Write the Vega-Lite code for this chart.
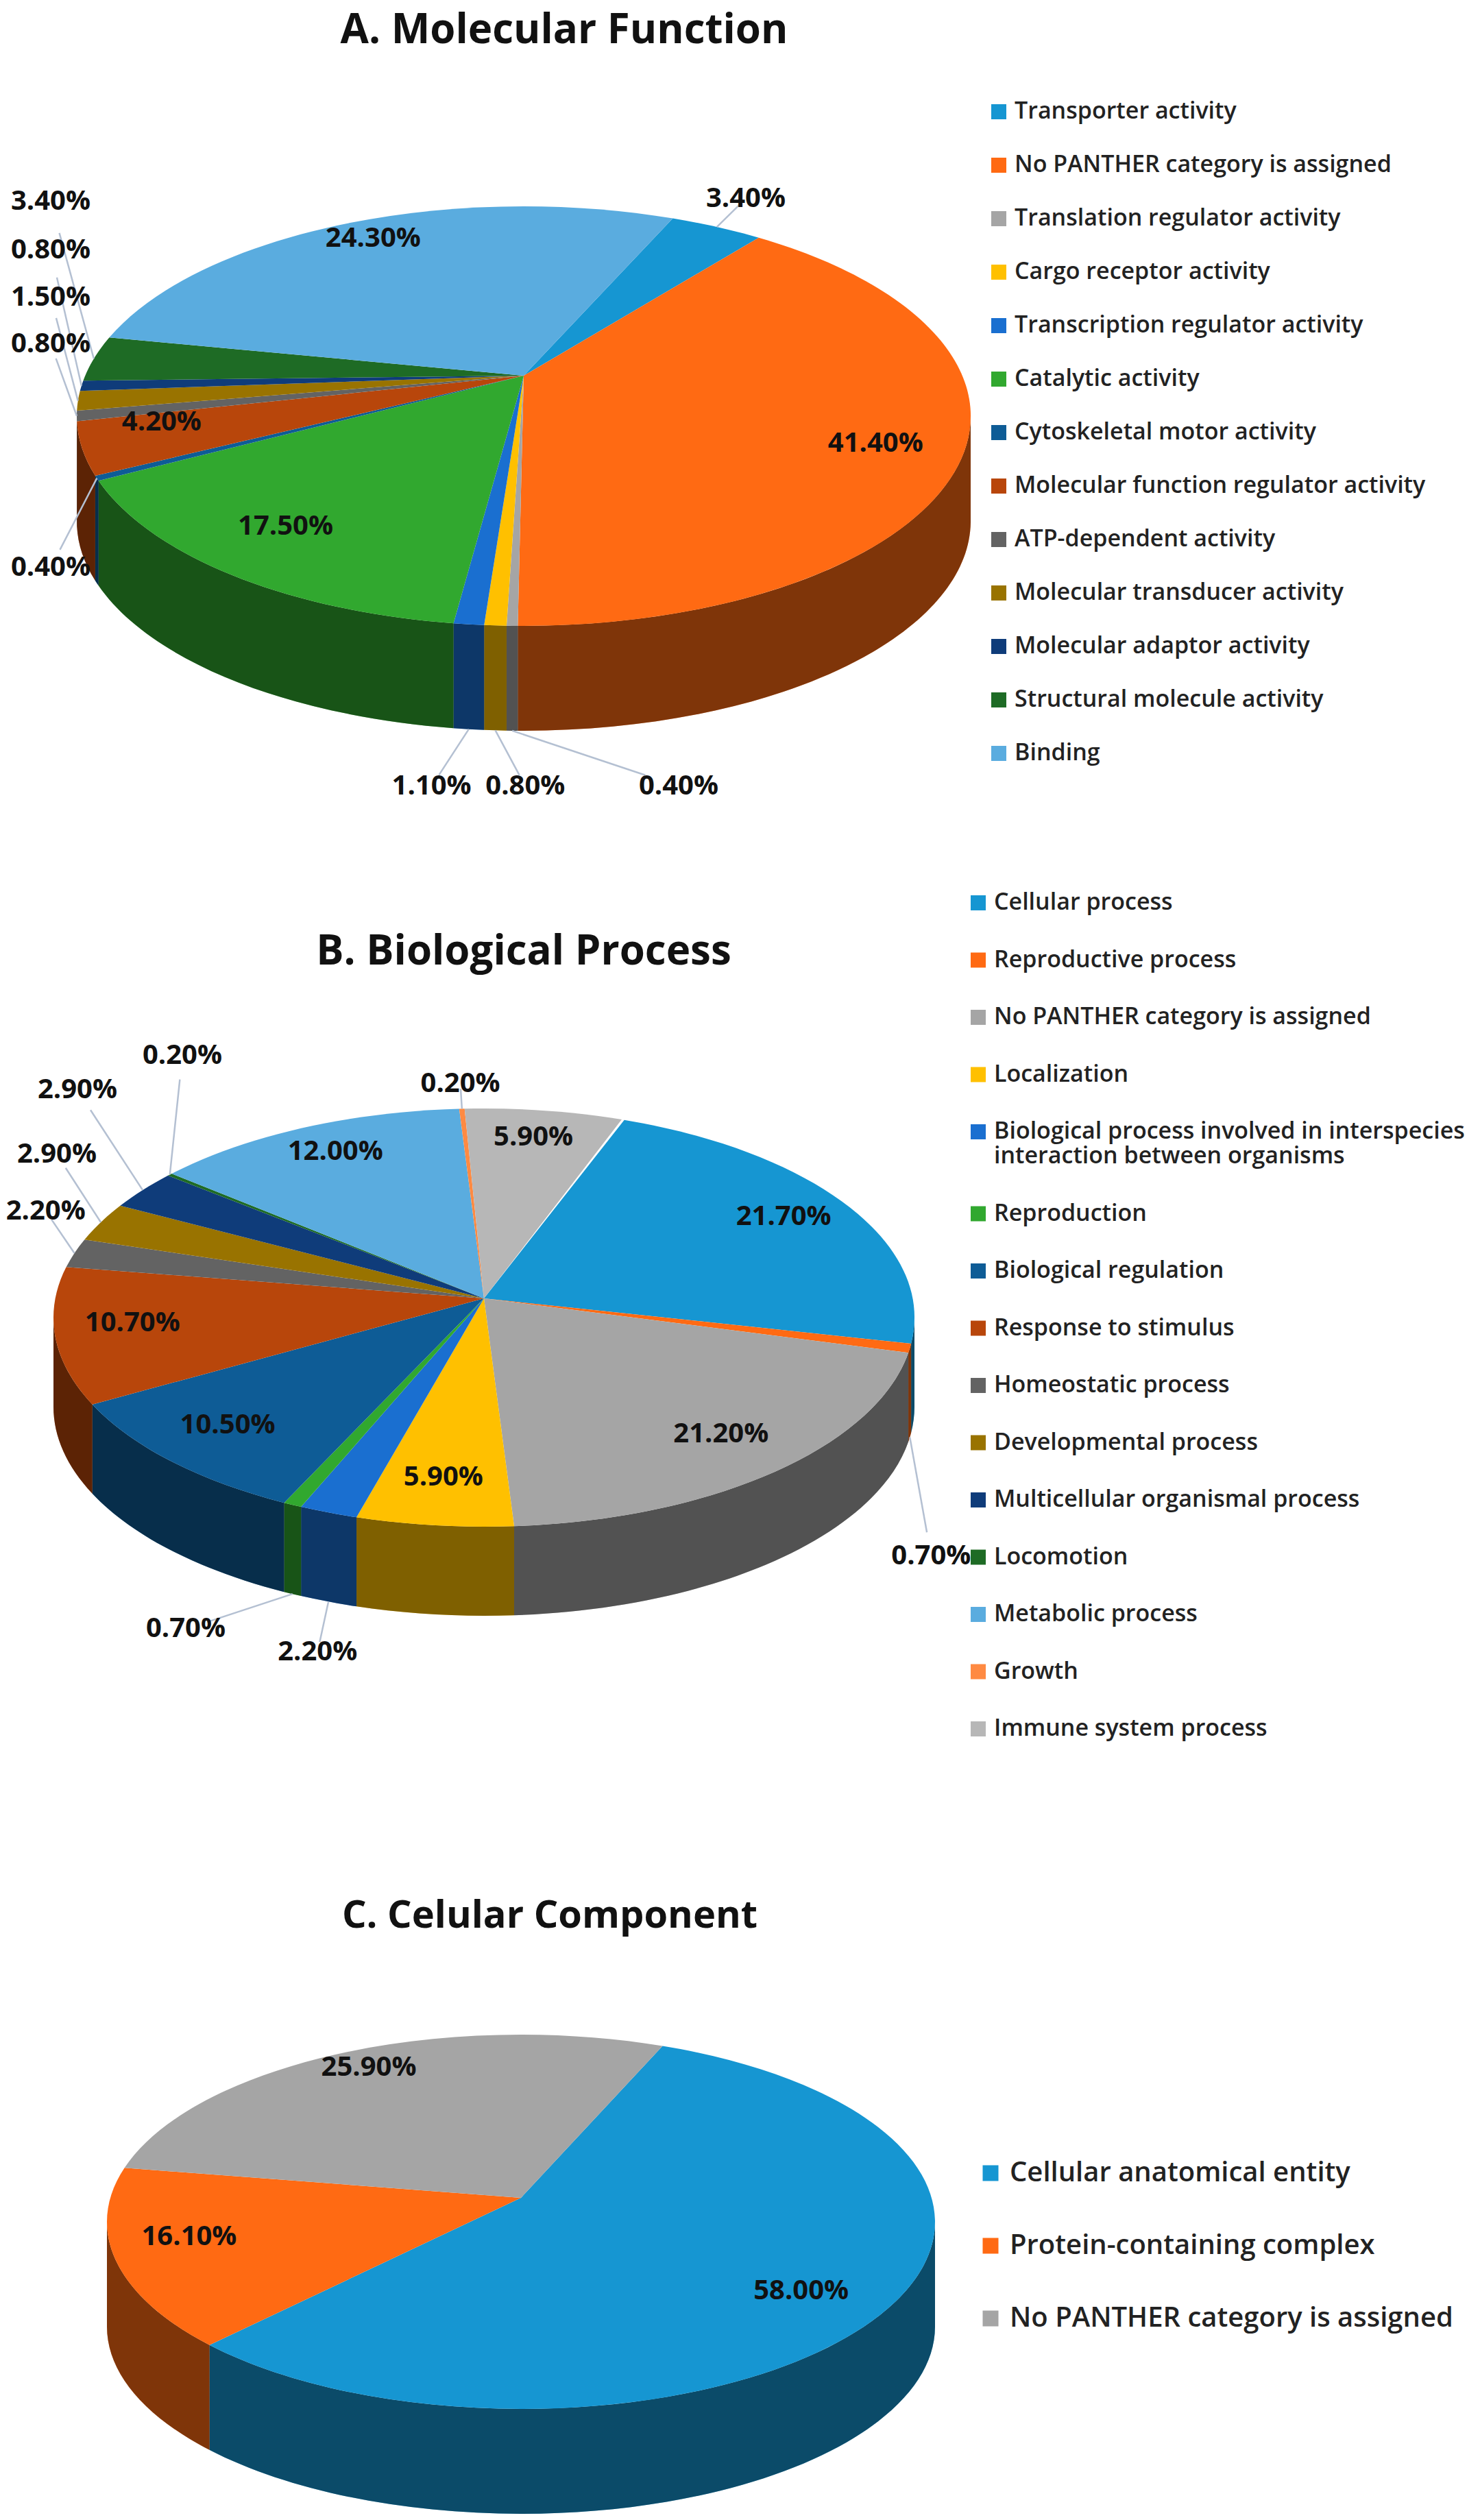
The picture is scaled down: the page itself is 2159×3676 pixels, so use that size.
{"$schema":"https://vega.github.io/schema/vega-lite/v6.json","padding":0,"background":"white","spacing":20,"config":{"view":{"stroke":null},"font":"Open Sans","title":{"font":"Open Sans","fontWeight":"bold","fontSize":60,"color":"#111111"},"legend":{"title":null,"labelFont":"Open Sans","labelFontWeight":600,"labelColor":"#222222","symbolType":"square","symbolStrokeWidth":0}},"vconcat":[
{"title":{"text":"A. Molecular Function","offset":-76,"anchor":"middle","dx":59},"width":1528,"height":1214,
"data":{"values":[{"slice":"Transporter activity","pct":3.4,"order":1},{"slice":"No PANTHER category is assigned","pct":41.4,"order":2},{"slice":"Translation regulator activity","pct":0.4,"order":3},{"slice":"Cargo receptor activity","pct":0.8,"order":4},{"slice":"Transcription regulator activity","pct":1.1,"order":5},{"slice":"Catalytic activity","pct":17.5,"order":6},{"slice":"Cytoskeletal motor activity","pct":0.4,"order":7},{"slice":"Molecular function regulator activity","pct":4.2,"order":8},{"slice":"ATP-dependent activity","pct":0.8,"order":9},{"slice":"Molecular transducer activity","pct":1.5,"order":10},{"slice":"Molecular adaptor activity","pct":0.8,"order":11},{"slice":"Structural molecule activity","pct":3.4,"order":12},{"slice":"Binding","pct":24.3,"order":13}]},
"transform":[{"window":[{"op":"sum","field":"pct","as":"cum"}],"sort":[{"field":"order"}]},
{"calculate":"(datum.cum-datum.pct)*0.0628319+0.34","as":"sa"},{"calculate":"datum.cum*0.0628319+0.34","as":"ea"},{"calculate":"(datum.sa+datum.ea)/2","as":"mid"},{"calculate":"datum.mid*180/PI","as":"deg"},
{"calculate":"round(sin(datum.sa)*1e5)/1e5","as":"x1"},{"calculate":"round(-0.4693*cos(datum.sa)*1e5)/1e5","as":"y1"},{"calculate":"round(sin(datum.ea)*1e5)/1e5","as":"x2"},{"calculate":"round(-0.4693*cos(datum.ea)*1e5)/1e5","as":"y2"},
{"calculate":"'M0,-0.0905 L'+datum.x1+','+datum.y1+' A1,0.4693 0 '+(datum.ea-datum.sa>PI?1:0)+' 1 '+datum.x2+','+datum.y2+' Z'","as":"top"},
{"calculate":"max(datum.sa,PI/2)","as":"wa"},{"calculate":"min(datum.ea,3*PI/2)","as":"wb"},
{"calculate":"round(sin(datum.wa)*1e5)/1e5","as":"xa"},{"calculate":"round(-0.4693*cos(datum.wa)*1e5)/1e5","as":"ya"},{"calculate":"round(sin(datum.wb)*1e5)/1e5","as":"xb"},{"calculate":"round(-0.4693*cos(datum.wb)*1e5)/1e5","as":"yb"},
{"calculate":"datum.wb>datum.wa?'M'+datum.xa+','+datum.ya+' A1,0.4693 0 0 1 '+datum.xb+','+datum.yb+' L'+datum.xb+','+(datum.yb+0.2347)+' A1,0.4693 0 0 0 '+datum.xa+','+(datum.ya+0.2347)+' Z':'M0,0 Z'","as":"wall"},
{"calculate":"datum.deg>240?-690:datum.deg>150?(datum.deg<183?226:(183.7-datum.deg)*40):sin(datum.mid)*652*1.15","as":"ox"},
{"calculate":"datum.deg>240?(datum.deg<259.5?221:max(-313,-106-16.5*(datum.deg-270.1))):datum.deg>150?540:-cos(datum.mid)*306*1.15","as":"oy"},
{"calculate":"datum.pct<=3.4?datum.ox:sin(datum.mid)*652*0.82","as":"lx"},{"calculate":"datum.pct<=3.4?datum.oy:-cos(datum.mid)*306*0.82-30","as":"ly"},
{"calculate":"sin(datum.mid)*652","as":"rimx"},{"calculate":"-cos(datum.mid)*306+(datum.deg>150&&datum.deg<235?153:0)","as":"rimy"},
{"calculate":"datum.rimx+0.8*(datum.lx-datum.rimx)","as":"ex"},{"calculate":"datum.rimy+0.8*(datum.ly-datum.rimy)","as":"ey"},
{"calculate":"format(datum.pct,'.2f')+'%'","as":"plabel"}],
"layer":[
{"mark":{"type":"point","filled":true,"opacity":1,"size":1700416,"strokeWidth":0},"encoding":{"x":{"datum":0,"type":"quantitative","scale":{"domain":[-764,764],"nice":false},"axis":null},"y":{"datum":0,"type":"quantitative","scale":{"domain":[-607,607],"nice":false,"reverse":true},"axis":null},"shape":{"field":"wall","type":"nominal","scale":null},"color":{"field":"slice","type":"nominal","legend":{"orient":"none","legendX":1440,"legendY":146,"labelFontSize":34,"labelLimit":800,"symbolSize":484,"labelOffset":6,"rowPadding":44},"scale":{"domain":["Transporter activity","No PANTHER category is assigned","Translation regulator activity","Cargo receptor activity","Transcription regulator activity","Catalytic activity","Cytoskeletal motor activity","Molecular function regulator activity","ATP-dependent activity","Molecular transducer activity","Molecular adaptor activity","Structural molecule activity","Binding"],"range":["#1696d2","#ff6a13","#a5a5a5","#ffc000","#1a6fd0","#31a82f","#0e5c96","#b8460b","#636363","#997300","#0f3c7a","#1e6b25","#5aacdf"]}}}},
{"mark":{"type":"point","filled":true,"opacity":0.5,"size":1700416,"strokeWidth":0,"color":"#000000"},"encoding":{"x":{"datum":0,"type":"quantitative","scale":{"domain":[-764,764],"nice":false},"axis":null},"y":{"datum":0,"type":"quantitative","scale":{"domain":[-607,607],"nice":false,"reverse":true},"axis":null},"shape":{"field":"wall","type":"nominal","scale":null}}},
{"mark":{"type":"point","filled":true,"opacity":1,"size":1700416,"strokeWidth":0},"encoding":{"x":{"datum":0,"type":"quantitative","scale":{"domain":[-764,764],"nice":false},"axis":null},"y":{"datum":0,"type":"quantitative","scale":{"domain":[-607,607],"nice":false,"reverse":true},"axis":null},"shape":{"field":"top","type":"nominal","scale":null},"color":{"field":"slice","type":"nominal","legend":{"orient":"none","legendX":1440,"legendY":146,"labelFontSize":34,"labelLimit":800,"symbolSize":484,"labelOffset":6,"rowPadding":44},"scale":{"domain":["Transporter activity","No PANTHER category is assigned","Translation regulator activity","Cargo receptor activity","Transcription regulator activity","Catalytic activity","Cytoskeletal motor activity","Molecular function regulator activity","ATP-dependent activity","Molecular transducer activity","Molecular adaptor activity","Structural molecule activity","Binding"],"range":["#1696d2","#ff6a13","#a5a5a5","#ffc000","#1a6fd0","#31a82f","#0e5c96","#b8460b","#636363","#997300","#0f3c7a","#1e6b25","#5aacdf"]}}}},
{"transform":[{"filter":"datum.pct<=3.4"}],"mark":{"type":"rule","color":"#b4c0d2","strokeWidth":2.5},"encoding":{"x":{"field":"rimx","type":"quantitative","scale":{"domain":[-764,764],"nice":false},"axis":null},"y":{"field":"rimy","type":"quantitative","scale":{"domain":[-607,607],"nice":false,"reverse":true},"axis":null},"x2":{"field":"ex"},"y2":{"field":"ey"}}},
{"mark":{"type":"text","fontSize":40,"fontWeight":"bold","color":"#111111","font":"Open Sans"},"encoding":{"x":{"field":"lx","type":"quantitative","scale":{"domain":[-764,764],"nice":false},"axis":null},"y":{"field":"ly","type":"quantitative","scale":{"domain":[-607,607],"nice":false,"reverse":true},"axis":null},"text":{"field":"plabel"}}}
]},
{"title":{"text":"B. Biological Process","offset":-186,"anchor":"middle","dx":58},"width":1412,"height":1376,
"data":{"values":[{"slice":"Cellular process","pct":21.7,"order":1},{"slice":"Reproductive process","pct":0.7,"order":2},{"slice":"No PANTHER category is assigned","pct":21.2,"order":3},{"slice":"Localization","pct":5.9,"order":4},{"slice":"Biological process involved in interspecies interaction between organisms","pct":2.2,"order":5},{"slice":"Reproduction","pct":0.7,"order":6},{"slice":"Biological regulation","pct":10.5,"order":7},{"slice":"Response to stimulus","pct":10.7,"order":8},{"slice":"Homeostatic process","pct":2.2,"order":9},{"slice":"Developmental process","pct":2.9,"order":10},{"slice":"Multicellular organismal process","pct":2.9,"order":11},{"slice":"Locomotion","pct":0.2,"order":12},{"slice":"Metabolic process","pct":12.0,"order":13},{"slice":"Growth","pct":0.2,"order":14},{"slice":"Immune system process","pct":5.9,"order":15}]},
"transform":[{"window":[{"op":"sum","field":"pct","as":"cum"}],"sort":[{"field":"order"}]},
{"calculate":"(datum.cum-datum.pct)*0.0628319+0.332","as":"sa"},{"calculate":"datum.cum*0.0628319+0.332","as":"ea"},{"calculate":"(datum.sa+datum.ea)/2","as":"mid"},{"calculate":"datum.mid*180/PI","as":"deg"},
{"calculate":"round(sin(datum.sa)*1e5)/1e5","as":"x1"},{"calculate":"round(-0.4857*cos(datum.sa)*1e5)/1e5","as":"y1"},{"calculate":"round(sin(datum.ea)*1e5)/1e5","as":"x2"},{"calculate":"round(-0.4857*cos(datum.ea)*1e5)/1e5","as":"y2"},
{"calculate":"'M0,-0.0446 L'+datum.x1+','+datum.y1+' A1,0.4857 0 '+(datum.ea-datum.sa>PI?1:0)+' 1 '+datum.x2+','+datum.y2+' Z'","as":"top"},
{"calculate":"max(datum.sa,PI/2)","as":"wa"},{"calculate":"min(datum.ea,3*PI/2)","as":"wb"},
{"calculate":"round(sin(datum.wa)*1e5)/1e5","as":"xa"},{"calculate":"round(-0.4857*cos(datum.wa)*1e5)/1e5","as":"ya"},{"calculate":"round(sin(datum.wb)*1e5)/1e5","as":"xb"},{"calculate":"round(-0.4857*cos(datum.wb)*1e5)/1e5","as":"yb"},
{"calculate":"datum.wb>datum.wa?'M'+datum.xa+','+datum.ya+' A1,0.4857 0 0 1 '+datum.xb+','+datum.yb+' L'+datum.xb+','+(datum.yb+0.207)+' A1,0.4857 0 0 0 '+datum.xa+','+(datum.ya+0.207)+' Z':'M0,0 Z'","as":"wall"},
{"calculate":"datum.deg>310&&datum.deg<320?-440:datum.deg>300&&datum.deg<=310?-593:datum.deg>290&&datum.deg<=300?-623:datum.deg>203&&datum.deg<210?-435:sin(datum.mid)*628*(datum.deg<150?1.05:1.07)","as":"ox"},
{"calculate":"datum.deg<150?348:datum.deg<240?489-(datum.deg-201)*6.4:datum.deg<320?-155-(datum.deg-287.9)*9:-341","as":"oy"},
{"calculate":"datum.pct<=3.4?datum.ox:sin(datum.mid)*628*0.82","as":"lx"},{"calculate":"datum.pct<=3.4?datum.oy:-cos(datum.mid)*305*0.82-15","as":"ly"},
{"calculate":"sin(datum.mid)*628","as":"rimx"},{"calculate":"-cos(datum.mid)*305+(cos(datum.mid)<0?130:0)","as":"rimy"},
{"calculate":"datum.rimx+0.8*(datum.lx-datum.rimx)","as":"ex"},{"calculate":"datum.rimy+0.8*(datum.ly-datum.rimy)","as":"ey"},
{"calculate":"format(datum.pct,'.2f')+'%'","as":"plabel"}],
"layer":[
{"mark":{"type":"point","filled":true,"opacity":1,"size":1577536,"strokeWidth":0},"encoding":{"x":{"datum":0,"type":"quantitative","scale":{"domain":[-706,706],"nice":false},"axis":null},"y":{"datum":0,"type":"quantitative","scale":{"domain":[-688,688],"nice":false,"reverse":true},"axis":null},"shape":{"field":"wall","type":"nominal","scale":null},"color":{"field":"slice","type":"nominal","legend":{"orient":"none","legendX":1410,"legendY":66,"labelFontSize":34,"labelLimit":800,"symbolSize":484,"labelOffset":6,"rowPadding":49.5,"labelExpr":"datum.label=='Biological process involved in interspecies interaction between organisms'?['Biological process involved in interspecies','interaction between organisms']:datum.label"},"scale":{"domain":["Cellular process","Reproductive process","No PANTHER category is assigned","Localization","Biological process involved in interspecies interaction between organisms","Reproduction","Biological regulation","Response to stimulus","Homeostatic process","Developmental process","Multicellular organismal process","Locomotion","Metabolic process","Growth","Immune system process"],"range":["#1696d2","#ff6a13","#a5a5a5","#ffc000","#1a6fd0","#31a82f","#0e5c96","#b8460b","#636363","#997300","#0f3c7a","#1e6b25","#5aacdf","#ff8a42","#b7b7b7"]}}}},
{"mark":{"type":"point","filled":true,"opacity":0.5,"size":1577536,"strokeWidth":0,"color":"#000000"},"encoding":{"x":{"datum":0,"type":"quantitative","scale":{"domain":[-706,706],"nice":false},"axis":null},"y":{"datum":0,"type":"quantitative","scale":{"domain":[-688,688],"nice":false,"reverse":true},"axis":null},"shape":{"field":"wall","type":"nominal","scale":null}}},
{"mark":{"type":"point","filled":true,"opacity":1,"size":1577536,"strokeWidth":0},"encoding":{"x":{"datum":0,"type":"quantitative","scale":{"domain":[-706,706],"nice":false},"axis":null},"y":{"datum":0,"type":"quantitative","scale":{"domain":[-688,688],"nice":false,"reverse":true},"axis":null},"shape":{"field":"top","type":"nominal","scale":null},"color":{"field":"slice","type":"nominal","legend":{"orient":"none","legendX":1410,"legendY":66,"labelFontSize":34,"labelLimit":800,"symbolSize":484,"labelOffset":6,"rowPadding":49.5,"labelExpr":"datum.label=='Biological process involved in interspecies interaction between organisms'?['Biological process involved in interspecies','interaction between organisms']:datum.label"},"scale":{"domain":["Cellular process","Reproductive process","No PANTHER category is assigned","Localization","Biological process involved in interspecies interaction between organisms","Reproduction","Biological regulation","Response to stimulus","Homeostatic process","Developmental process","Multicellular organismal process","Locomotion","Metabolic process","Growth","Immune system process"],"range":["#1696d2","#ff6a13","#a5a5a5","#ffc000","#1a6fd0","#31a82f","#0e5c96","#b8460b","#636363","#997300","#0f3c7a","#1e6b25","#5aacdf","#ff8a42","#b7b7b7"]}}}},
{"transform":[{"filter":"datum.pct<=3.4"}],"mark":{"type":"rule","color":"#b4c0d2","strokeWidth":2.5},"encoding":{"x":{"field":"rimx","type":"quantitative","scale":{"domain":[-706,706],"nice":false},"axis":null},"y":{"field":"rimy","type":"quantitative","scale":{"domain":[-688,688],"nice":false,"reverse":true},"axis":null},"x2":{"field":"ex"},"y2":{"field":"ey"}}},
{"mark":{"type":"text","fontSize":40,"fontWeight":"bold","color":"#111111","font":"Open Sans"},"encoding":{"x":{"field":"lx","type":"quantitative","scale":{"domain":[-706,706],"nice":false},"axis":null},"y":{"field":"ly","type":"quantitative","scale":{"domain":[-688,688],"nice":false,"reverse":true},"axis":null},"text":{"field":"plabel"}}}
]},
{"title":{"text":"C. Celular Component","offset":-194,"anchor":"middle","dx":42,"fontSize":56},"width":1520,"height":1046,
"data":{"values":[{"slice":"Cellular anatomical entity","pct":58.0,"order":1},{"slice":"Protein-containing complex","pct":16.1,"order":2},{"slice":"No PANTHER category is assigned","pct":25.9,"order":3}]},
"transform":[{"window":[{"op":"sum","field":"pct","as":"cum"}],"sort":[{"field":"order"}]},
{"calculate":"(datum.cum-datum.pct)*0.0628319+0.349","as":"sa"},{"calculate":"datum.cum*0.0628319+0.349","as":"ea"},{"calculate":"(datum.sa+datum.ea)/2","as":"mid"},
{"calculate":"round(sin(datum.sa)*1e5)/1e5","as":"x1"},{"calculate":"round(-0.452*cos(datum.sa)*1e5)/1e5","as":"y1"},{"calculate":"round(sin(datum.ea)*1e5)/1e5","as":"x2"},{"calculate":"round(-0.452*cos(datum.ea)*1e5)/1e5","as":"y2"},
{"calculate":"'M0,-0.058 L'+datum.x1+','+datum.y1+' A1,0.452 0 '+(datum.ea-datum.sa>PI?1:0)+' 1 '+datum.x2+','+datum.y2+' Z'","as":"top"},
{"calculate":"max(datum.sa,PI/2)","as":"wa"},{"calculate":"min(datum.ea,3*PI/2)","as":"wb"},
{"calculate":"round(sin(datum.wa)*1e5)/1e5","as":"xa"},{"calculate":"round(-0.452*cos(datum.wa)*1e5)/1e5","as":"ya"},{"calculate":"round(sin(datum.wb)*1e5)/1e5","as":"xb"},{"calculate":"round(-0.452*cos(datum.wb)*1e5)/1e5","as":"yb"},
{"calculate":"datum.wb>datum.wa?'M'+datum.xa+','+datum.ya+' A1,0.452 0 0 1 '+datum.xb+','+datum.yb+' L'+datum.xb+','+(datum.yb+0.2533)+' A1,0.452 0 0 0 '+datum.xa+','+(datum.ya+0.2533)+' Z':'M0,0 Z'","as":"wall"},
{"calculate":"sin(datum.mid)*604*0.82","as":"lx"},{"calculate":"-cos(datum.mid)*273*0.82-25","as":"ly"},
{"calculate":"format(datum.pct,'.2f')+'%'","as":"plabel"}],
"layer":[
{"mark":{"type":"point","filled":true,"opacity":1,"size":1459264,"strokeWidth":0},"encoding":{"x":{"datum":0,"type":"quantitative","scale":{"domain":[-760,760],"nice":false},"axis":null},"y":{"datum":0,"type":"quantitative","scale":{"domain":[-611,435],"nice":false,"reverse":true},"axis":null},"shape":{"field":"wall","type":"nominal","scale":null},"color":{"field":"slice","type":"nominal","legend":{"orient":"none","legendX":1425,"legendY":520,"labelFontSize":40,"labelLimit":800,"symbolSize":529,"labelOffset":8,"rowPadding":66},"scale":{"domain":["Cellular anatomical entity","Protein-containing complex","No PANTHER category is assigned"],"range":["#1696d2","#ff6a13","#a5a5a5"]}}}},
{"mark":{"type":"point","filled":true,"opacity":0.5,"size":1459264,"strokeWidth":0,"color":"#000000"},"encoding":{"x":{"datum":0,"type":"quantitative","scale":{"domain":[-760,760],"nice":false},"axis":null},"y":{"datum":0,"type":"quantitative","scale":{"domain":[-611,435],"nice":false,"reverse":true},"axis":null},"shape":{"field":"wall","type":"nominal","scale":null}}},
{"mark":{"type":"point","filled":true,"opacity":1,"size":1459264,"strokeWidth":0},"encoding":{"x":{"datum":0,"type":"quantitative","scale":{"domain":[-760,760],"nice":false},"axis":null},"y":{"datum":0,"type":"quantitative","scale":{"domain":[-611,435],"nice":false,"reverse":true},"axis":null},"shape":{"field":"top","type":"nominal","scale":null},"color":{"field":"slice","type":"nominal","legend":{"orient":"none","legendX":1425,"legendY":520,"labelFontSize":40,"labelLimit":800,"symbolSize":529,"labelOffset":8,"rowPadding":66},"scale":{"domain":["Cellular anatomical entity","Protein-containing complex","No PANTHER category is assigned"],"range":["#1696d2","#ff6a13","#a5a5a5"]}}}},
{"mark":{"type":"text","fontSize":40,"fontWeight":"bold","color":"#111111","font":"Open Sans"},"encoding":{"x":{"field":"lx","type":"quantitative","scale":{"domain":[-760,760],"nice":false},"axis":null},"y":{"field":"ly","type":"quantitative","scale":{"domain":[-611,435],"nice":false,"reverse":true},"axis":null},"text":{"field":"plabel"}}}
]}
],"resolve":{"scale":{"color":"independent","x":"independent","y":"independent"}}}
